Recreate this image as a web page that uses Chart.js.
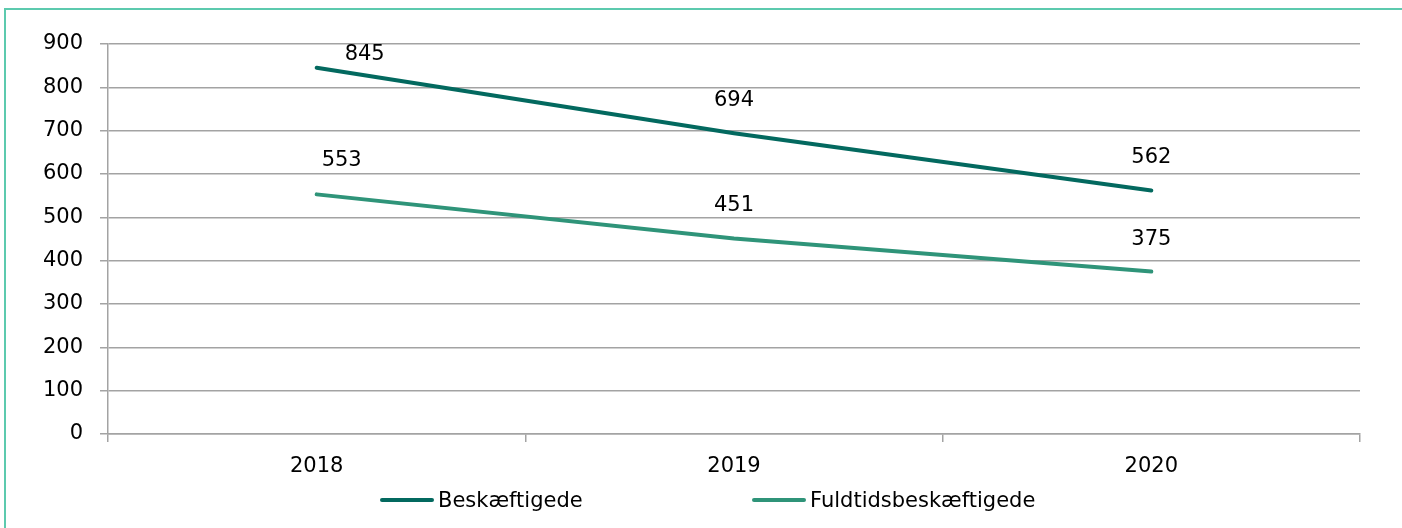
<!DOCTYPE html>
<html>
<head>
<meta charset="utf-8">
<script src="https://cdn.jsdelivr.net/npm/chart.js@4/dist/chart.umd.min.js"></script>
<style>
  html, body { margin: 0; padding: 0; background: #fff; }
  body { width: 1402px; height: 528px; position: relative; overflow: hidden; font-family: "DejaVu Sans", sans-serif; }
  .frame { position: absolute; left: 4px; top: 8px; width: 1500px; height: 600px; border-left: 2px solid #5ccaae; border-top: 2px solid #5ccaae; }
  canvas { position: absolute; left: 0; top: 0; }
  .legend { position: absolute; top: 488px; left: 0; width: 1402px; height: 24px; }
  .item { position: absolute; top: 0; display: flex; align-items: center; height: 24px; font-size: 21px; color: #000; }
  .item span.line { display: inline-block; width: 54px; height: 4px; border-radius: 2px; margin-right: 4px; }
</style>
</head>
<body>
<div class="frame"></div>
<canvas id="c" width="1402" height="528"></canvas>
<div class="legend" id="legend"></div>
<script>
const years = ["2018", "2019", "2020"];
const seriesNames = ["Beskæftigede", "Fuldtidsbeskæftigede"];
const employed = [845, 694, 562];
const fullTime = [553, 451, 375];
const yTicks = [0, 100, 200, 300, 400, 500, 600, 700, 800, 900];

const colors = ["#03695f", "#2f9479"];
// where each value label sits relative to its point (px)
const labelShift = [
  [[48, -13], [0, -33], [0, -33]],
  [[25, -34], [0, -33], [0, -32]]
];
const legendLeft = [380, 752];

const gridColor = "#a3a3a3";
const font = { family: "DejaVu Sans", size: 21 };

const valueLabels = {
  id: "valueLabels",
  afterDatasetsDraw(chart) {
    const ctx = chart.ctx;
    ctx.save();
    ctx.font = "21px 'DejaVu Sans'";
    ctx.fillStyle = "#000";
    ctx.textAlign = "center";
    ctx.textBaseline = "middle";
    chart.data.datasets.forEach((ds, i) => {
      chart.getDatasetMeta(i).data.forEach((pt, j) => {
        const [dx, dy] = labelShift[i][j];
        ctx.fillText(String(ds.data[j]), pt.x + dx, pt.y + dy);
      });
    });
    ctx.restore();
  }
};

new Chart(document.getElementById("c"), {
  type: "line",
  data: {
    labels: years,
    datasets: [employed, fullTime].map((d, i) => ({
      label: seriesNames[i],
      data: d,
      borderColor: colors[i],
      backgroundColor: colors[i],
      borderWidth: 4,
      borderCapStyle: "round",
      pointRadius: 0,
      tension: 0
    }))
  },
  options: {
    responsive: false,
    animation: false,
    layout: { padding: { left: 0, right: 42, top: 44, bottom: 0 } },
    plugins: { legend: { display: false }, tooltip: { enabled: false } },
    scales: {
      x: {
        offset: true,
        grid: { offset: true, drawOnChartArea: false, color: gridColor, lineWidth: 1.5, tickLength: 8 },
        border: { color: gridColor, width: 1.5 },
        ticks: { color: "#000", font, padding: 12 },
        afterFit: s => { s.height = 94; }
      },
      y: {
        min: 0,
        max: 900,
        afterBuildTicks: s => { s.ticks = yTicks.map(v => ({ value: v })); },
        grid: { color: gridColor, lineWidth: 1.5, tickLength: 8 },
        border: { color: gridColor, width: 1.5 },
        ticks: { color: "#000", font, padding: 17 },
        afterFit: s => { s.width = 108; }
      }
    }
  },
  plugins: [valueLabels]
});

const legend = document.getElementById("legend");
seriesNames.forEach((name, i) => {
  const item = document.createElement("div");
  item.className = "item";
  item.style.left = legendLeft[i] + "px";
  const line = document.createElement("span");
  line.className = "line";
  line.style.background = colors[i];
  item.appendChild(line);
  item.appendChild(document.createTextNode(name));
  legend.appendChild(item);
});
</script>
</body>
</html>
